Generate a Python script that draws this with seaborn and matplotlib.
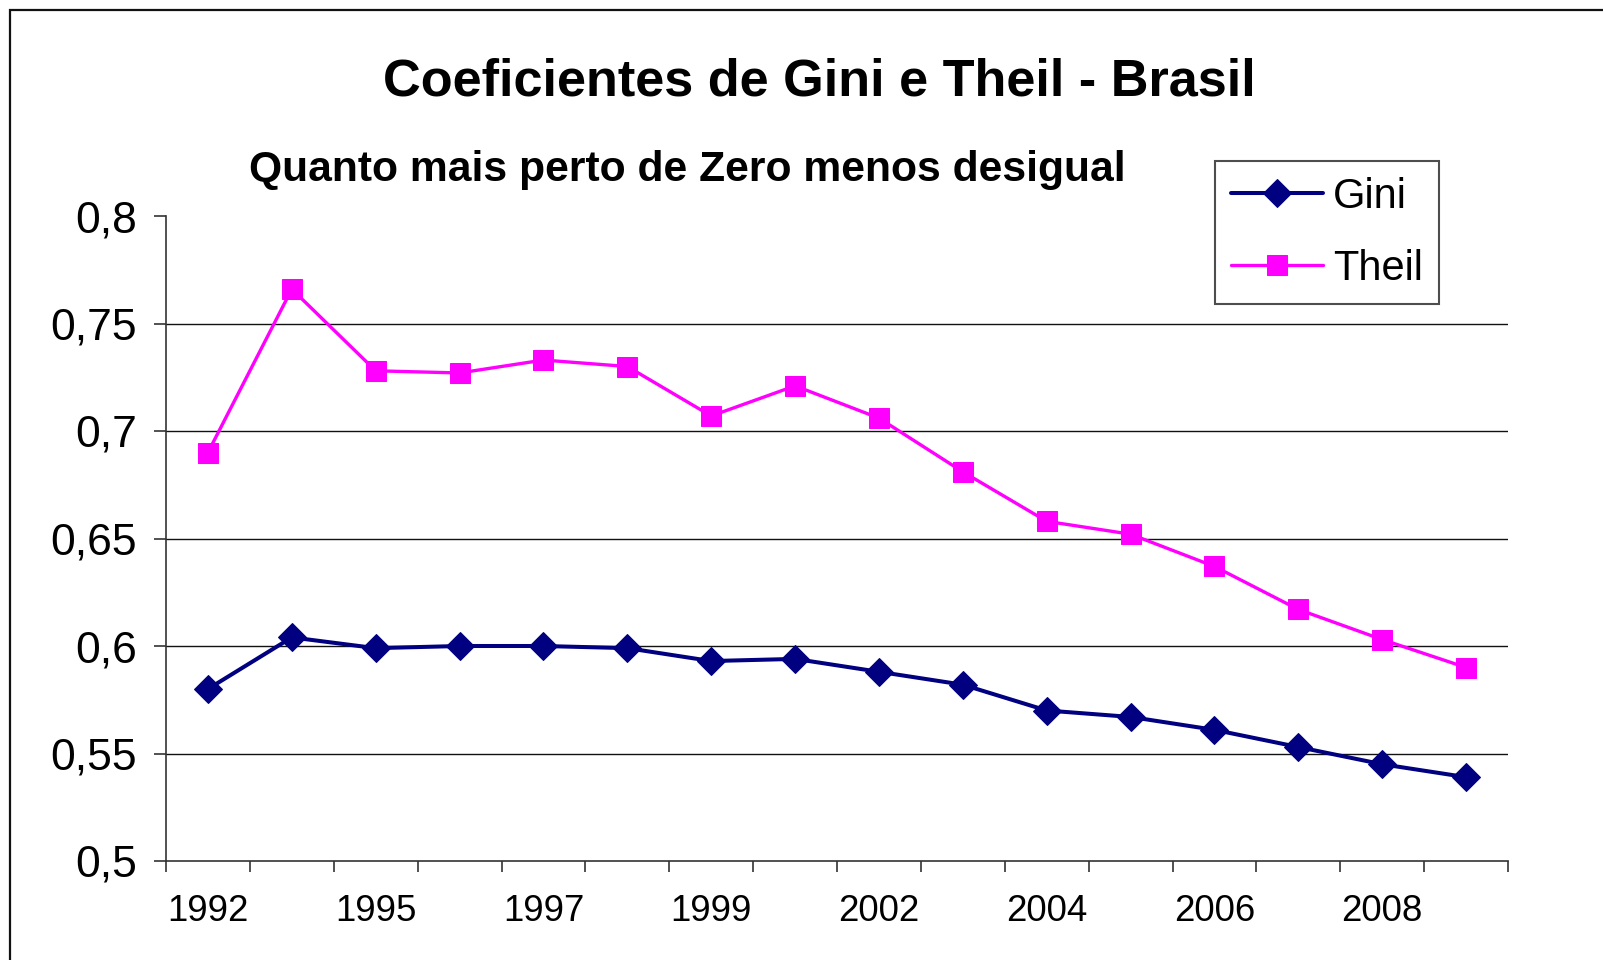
import matplotlib
matplotlib.use("Agg")
import matplotlib.pyplot as plt
import seaborn as sns
import pandas as pd
from matplotlib.patches import Rectangle

# ---- data ----
anos = ["1992", "1993", "1995", "1996", "1997", "1998", "1999", "2001",
        "2002", "2003", "2004", "2005", "2006", "2007", "2008", "2009"]
gini = [0.580, 0.604, 0.599, 0.600, 0.600, 0.599, 0.593, 0.594,
        0.588, 0.582, 0.570, 0.567, 0.561, 0.553, 0.545, 0.539]
theil = [0.690, 0.766, 0.728, 0.727, 0.733, 0.730, 0.707, 0.721,
         0.706, 0.681, 0.658, 0.652, 0.637, 0.617, 0.603, 0.590]
y_ticks = [0.5, 0.55, 0.6, 0.65, 0.7, 0.75, 0.8]
y_labels = ["0,5", "0,55", "0,6", "0,65", "0,7", "0,75", "0,8"]
titulo = "Coeficientes de Gini e Theil - Brasil"
subtitulo = "Quanto mais perto de Zero menos desigual"

idx = list(range(len(anos)))
df_g = pd.DataFrame({"idx": idx, "valor": gini})
df_t = pd.DataFrame({"idx": idx, "valor": theil})

sns.set_theme(style="white")
plt.rcParams["font.family"] = ["Liberation Sans", "DejaVu Sans"]
plt.rcParams["text.color"] = "black"
plt.rcParams["xtick.labelcolor"] = "black"
plt.rcParams["ytick.labelcolor"] = "black"

W, H = 1603, 960
fig = plt.figure(figsize=(W / 100, H / 100), dpi=100)
ax = fig.add_axes([166 / W, 1 - 861 / H, (1508 - 166) / W, (861 - 216) / H])

sns.lineplot(data=df_g, x="idx", y="valor", ax=ax, color="#000080",
             marker="D", markersize=14, markeredgecolor="#000080",
             linewidth=2.9, label="Gini")
sns.lineplot(data=df_t, x="idx", y="valor", ax=ax, color="#FF00FF",
             marker="s", markersize=14.5, markeredgecolor="#FF00FF",
             linewidth=2.4, label="Theil")

ax.set_xlim(-0.5, len(anos) - 0.5)
ax.set_ylim(0.5, 0.8)
ax.set_xlabel("")
ax.set_ylabel("")

# y axis
ax.set_yticks(y_ticks)
ax.set_yticklabels(y_labels)
ax.tick_params(axis="y", which="major", length=9, width=1.2, color="#333333",
               direction="out", pad=12, labelsize=32, left=True,
               labelcolor="black")
ax.yaxis.grid(True, color="#111111", linewidth=1.0)
ax.set_axisbelow(True)
for gl in ax.yaxis.get_gridlines()[-1:] + ax.yaxis.get_gridlines()[:1]:
    gl.set_visible(False)

# x axis: labels every other category, ticks on boundaries
ax.set_xticks(idx[::2])
ax.set_xticklabels(anos[::2])
ax.set_xticks([i - 0.5 for i in range(len(anos) + 1)], minor=True)
ax.tick_params(axis="x", which="major", length=0, pad=24, labelsize=26.4,
               labelcolor="black")
ax.tick_params(axis="x", which="minor", length=8, width=1.2, color="#333333",
               direction="out", bottom=True)
ax.xaxis.grid(False)

for s in ["top", "right"]:
    ax.spines[s].set_visible(False)
for s in ["left", "bottom"]:
    ax.spines[s].set_color("#333333")
    ax.spines[s].set_linewidth(1.2)

leg = ax.legend(loc="upper left", bbox_to_anchor=(1215 / W, 1 - 161 / H),
                bbox_transform=fig.transFigure, fontsize=30, frameon=True,
                fancybox=False, edgecolor="#222222", handlelength=2.2,
                handletextpad=0.25, borderpad=0.38, labelspacing=0.76,
                borderaxespad=0)
leg.get_frame().set_linewidth(1.5)
for t in leg.get_texts():
    t.set_color("black")

fig.text(0.511, 1 - 96 / H, titulo, ha="center", va="baseline",
         fontsize=37.6, fontweight="bold", color="black")
fig.text(687 / W, 1 - 181 / H, subtitulo, ha="center", va="baseline",
         fontsize=30.7, fontweight="bold", color="black")

fig.patches.append(Rectangle((10 / W, -0.1), 1.2, 1 - 10 / H + 0.1,
                             transform=fig.transFigure, fill=False,
                             edgecolor="#111111", linewidth=1.6))

fig.savefig("out.png", dpi=100)
